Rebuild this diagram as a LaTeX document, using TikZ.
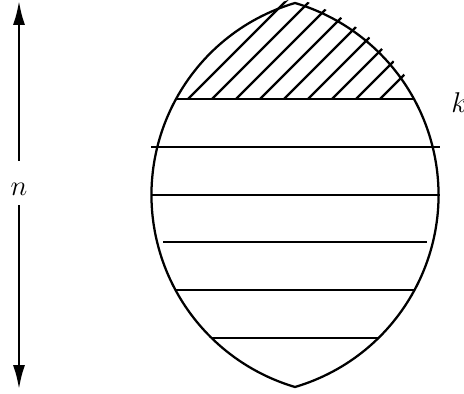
\documentclass[tikz,border=0pt]{standalone}
\usepackage{tikz}
\usetikzlibrary{arrows.meta}

\begin{document}
\begin{tikzpicture}[x=0.42pt, y=-0.42pt,
    trazo/.style={black, line width=0.95pt},
    flecha/.style={trazo, -{Latex[length=10pt, width=5pt]}},
    rotulo/.style={font=\large}]
  \useasboundingbox (0,0) rectangle (464,394);
  % Contorno de la lente
  \draw[trazo] (295,3) arc[start angle=253.55, end angle=106.45, radius=200.2]
    arc[start angle=73.55, end angle=-73.55, radius=200.2] -- cycle;
  % Rayado de la parte superior
  \begin{scope}
    \clip (351.7,195) circle[radius=205];
    \clip (238.3,195) circle[radius=205];
    \clip (140,99) rectangle (450,-20);
    \foreach \x in {188,212,...,380} {
      \draw[trazo] (\x,99) -- ++(130,-130);
    }
  \end{scope}
  % Cortes horizontales
  \foreach \y/\a/\b in {99/176/414, 147/151/440, 195/151/440, 242/163/427, 290/176/415, 338/212/378} {
    \draw[trazo] (\a,\y) -- (\b,\y);
  }
  % Etiquetas y flecha
  \node[rotulo] (n) at (19,189.5) {$n$};
  \node[rotulo, anchor=west, inner sep=0pt] (k) at (451,103) {$k$};
  \coordinate (ntop) at (19,1);
  \coordinate (nbot) at (19,389);
  \draw[flecha, shorten <=6pt] (n) -- (ntop);
  \draw[flecha, shorten <=0.5pt] (n) -- (nbot);
\end{tikzpicture}
\end{document}
